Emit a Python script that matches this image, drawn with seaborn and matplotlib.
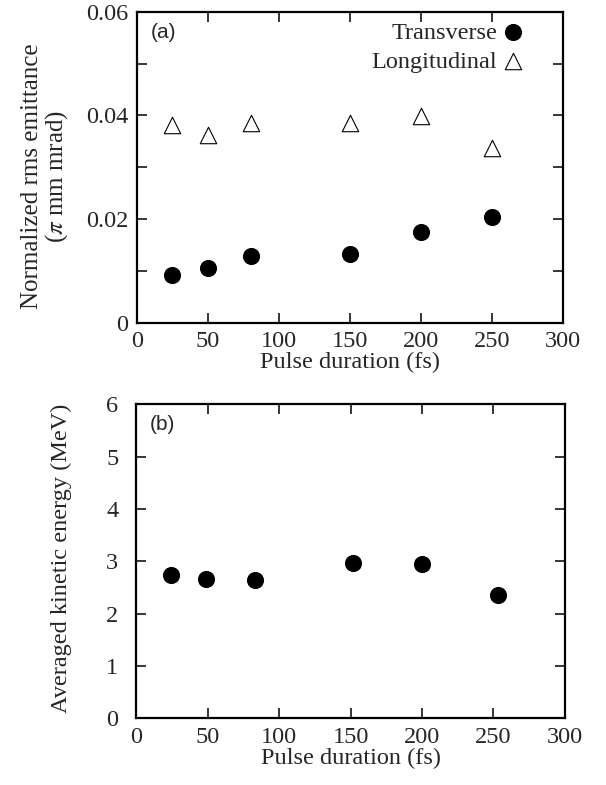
import numpy as np
import pandas as pd
import matplotlib
matplotlib.use("Agg")
import matplotlib.pyplot as plt
import seaborn as sns

# values
pulse_a = [25, 50, 80, 150, 200, 250]
transverse = [0.0092, 0.0106, 0.0129, 0.0132, 0.0175, 0.0204]
longitudinal = [0.0382, 0.0362, 0.0386, 0.0386, 0.0399, 0.0338]

pulse_b = [24, 49, 83, 152, 200, 253]
energy = [2.74, 2.67, 2.64, 2.96, 2.94, 2.36]

x_ticks = [0, 50, 100, 150, 200, 250, 300]
y_ticks_a = [0, 0.01, 0.02, 0.03, 0.04, 0.05, 0.06]
y_labels_a = ["0", "", "0.02", "", "0.04", "", "0.06"]
y_ticks_b = [0, 1, 2, 3, 4, 5, 6]

sns.set_style("ticks")
plt.rcParams["font.family"] = ["Liberation Serif", "DejaVu Serif"]
plt.rcParams["mathtext.fontset"] = "stix"

df_a = pd.DataFrame({"pulse": pulse_a, "Transverse": transverse, "Longitudinal": longitudinal})
df_b = pd.DataFrame({"pulse": pulse_b, "energy": energy})

fig = plt.figure(figsize=(6.06, 7.85), dpi=100)
ax1 = fig.add_axes([0.226, 0.589, 0.703, 0.396])
ax2 = fig.add_axes([0.225, 0.085, 0.707, 0.400])

# panel (a)
sns.scatterplot(data=df_a, x="pulse", y="Transverse", ax=ax1, color="black",
                s=130, marker="o", edgecolor="black", label="Transverse", zorder=3)
sns.scatterplot(data=df_a, x="pulse", y="Longitudinal", ax=ax1, marker="^",
                s=140, facecolor="white", edgecolor="black", linewidth=0.8,
                label="Longitudinal", zorder=3)
ax1.set_xlim(0, 300)
ax1.set_ylim(0, 0.06)
ax1.set_xticks(x_ticks)
ax1.set_yticks(y_ticks_a)
ax1.set_yticklabels(y_labels_a)
ax1.set_xlabel("Pulse duration (fs)", fontsize=17.5, labelpad=0)
ax1.set_ylabel("Normalized rms emittance\n($\\pi$ mm mrad)", fontsize=18, linespacing=1.0)
ax1.yaxis.set_label_coords(-0.158, 0.47)
ax1.text(0.032, 0.965, "(a)", transform=ax1.transAxes, ha="left", va="top",
         fontsize=15, family="Liberation Sans")
leg = ax1.legend(loc="upper right", bbox_to_anchor=(0.934, 1.0), markerfirst=False,
                 frameon=False, fontsize=17.5, handletextpad=0.15, handlelength=1.0,
                 borderaxespad=0.0, labelspacing=0.3)

# panel (b)
sns.scatterplot(data=df_b, x="pulse", y="energy", ax=ax2, color="black",
                s=130, marker="o", edgecolor="black", zorder=3)
ax2.set_xlim(0, 300)
ax2.set_ylim(0, 6)
ax2.set_xticks(x_ticks)
ax2.set_yticks(y_ticks_b)
ax2.set_xlabel("Pulse duration (fs)", fontsize=17.5, labelpad=0)
ax2.set_ylabel("Averaged kinetic energy (MeV)", fontsize=17.5)
ax2.yaxis.set_label_coords(-0.15, 0.51)
ax2.text(0.032, 0.965, "(b)", transform=ax2.transAxes, ha="left", va="top",
         fontsize=15, family="Liberation Sans")

for ax in (ax1, ax2):
    ax.tick_params(direction="in", length=7, width=1.3, top=True, right=True,
                   labelsize=17.5, pad=6)
    for sp in ax.spines.values():
        sp.set_linewidth(1.6)
        sp.set_color("black")
ax2.tick_params(axis="y", pad=13)

fig.savefig("out.png", dpi=100)
